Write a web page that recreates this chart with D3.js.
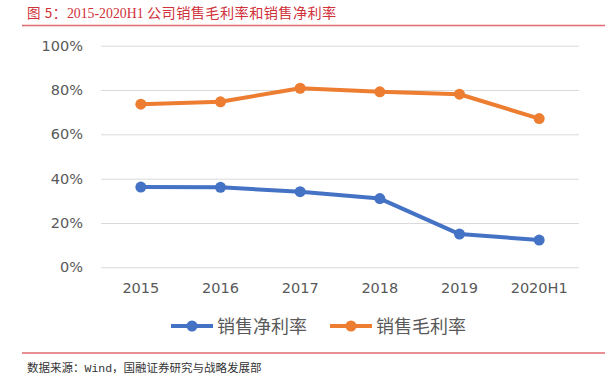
<!DOCTYPE html>
<html>
<head>
<meta charset="utf-8">
<script src="https://cdn.jsdelivr.net/npm/d3@7"></script>
<style>
  body { margin: 0; background: #fff; }
</style>
</head>
<body>
<svg id="chart" width="605" height="375"></svg>
<script>
// values
var years = ["2015", "2016", "2017", "2018", "2019", "2020H1"]
var netMargin = [0.362, 0.361, 0.341, 0.310, 0.150, 0.123]
var grossMargin = [0.736, 0.747, 0.808, 0.792, 0.781, 0.671]
var yTicks = [0, 0.2, 0.4, 0.6, 0.8, 1.0]
var seriesNames = ["销售净利率", "销售毛利率"]
var colors = ["#4472C4", "#ED7D31"]

var svg = d3.select("#chart")

// title + rules
var title = svg.append("text")
    .attr("x", 27).attr("y", 18)
    .attr("fill", "#d0313a")
title.append("tspan")
    .style("font-family", "'Noto Sans CJK SC', sans-serif").style("font-size", "13.5px")
    .style("letter-spacing", "0.6px")
    .text("图 5：")
title.append("tspan")
    .style("font-family", "'Liberation Serif', serif").style("font-size", "13.8px")
    .text("2015-2020H1 ")
title.append("tspan")
    .style("font-family", "'Noto Sans CJK SC', sans-serif").style("font-size", "14.2px")
    .style("letter-spacing", "0.4px")
    .text("公司销售毛利率和销售净利率")

svg.append("line")
    .attr("x1", 22).attr("x2", 605).attr("y1", 25.5).attr("y2", 25.5)
    .attr("stroke", "#e06a70").attr("stroke-width", 1.5)
svg.append("line")
    .attr("x1", 22).attr("x2", 605).attr("y1", 353).attr("y2", 353)
    .attr("stroke", "#e06a70").attr("stroke-width", 1.5)
svg.append("text")
    .attr("x", 27).attr("y", 372)
    .attr("fill", "#333")
    .style("font-family", "'Liberation Mono', 'Noto Sans CJK SC', monospace")
    .style("font-size", "11.5px")
    .text("数据来源：Wind，国融证券研究与战略发展部")

var x = d3.scaleBand().domain(years).range([101, 579])
var y = d3.scaleLinear().domain([0, 1]).range([267.3, 45.7])

// gridlines
svg.append("g")
    .attr("transform", "translate(101,0)")
    .call(d3.axisLeft(y).tickValues(yTicks).tickSize(-478).tickFormat(d3.format(".0%")))
    .call(g => g.select(".domain").remove())
    .call(g => g.selectAll(".tick line").attr("stroke", "#d9d9d9").attr("stroke-width", 1))
    .call(g => g.selectAll(".tick text")
        .attr("x", -18)
        .attr("fill", "#595959")
        .style("font-family", "'DejaVu Sans', sans-serif")
        .style("font-size", "14.5px"))

svg.append("g")
    .attr("transform", "translate(0,267.3)")
    .call(d3.axisBottom(x).tickSize(0))
    .call(g => g.select(".domain").remove())
    .call(g => g.selectAll(".tick text")
        .attr("dy", "1.55em")
        .attr("fill", "#595959")
        .style("font-family", "'DejaVu Sans', sans-serif")
        .style("font-size", "14.5px"))

var series = [netMargin, grossMargin]
var line = d3.line()
    .x((d, i) => x(years[i]) + x.bandwidth() / 2)
    .y(d => y(d))

series.forEach(function (vals, k) {
    svg.append("path")
        .datum(vals)
        .attr("d", line)
        .attr("fill", "none")
        .attr("stroke", colors[k])
        .attr("stroke-width", 4)
        .attr("stroke-linejoin", "round")
    svg.selectAll(".dot" + k)
        .data(vals)
        .enter()
        .append("circle")
        .attr("cx", (d, i) => x(years[i]) + x.bandwidth() / 2)
        .attr("cy", d => y(d))
        .attr("r", 5.5)
        .attr("fill", colors[k])
})

// legend
var legX = [171, 330]
seriesNames.forEach(function (name, k) {
    var g = svg.append("g").attr("transform", "translate(" + legX[k] + ",326)")
    g.append("line").attr("x1", 0).attr("x2", 42).attr("y1", 0).attr("y2", 0)
        .attr("stroke", colors[k]).attr("stroke-width", 4)
    g.append("circle").attr("cx", 21).attr("cy", 0).attr("r", 5.5).attr("fill", colors[k])
    g.append("text").attr("x", 46).attr("y", 6.5)
        .attr("fill", "#595959")
        .style("font-family", "'Noto Sans CJK SC', sans-serif")
        .style("font-size", "18px")
        .text(name)
})
</script>
</body>
</html>
